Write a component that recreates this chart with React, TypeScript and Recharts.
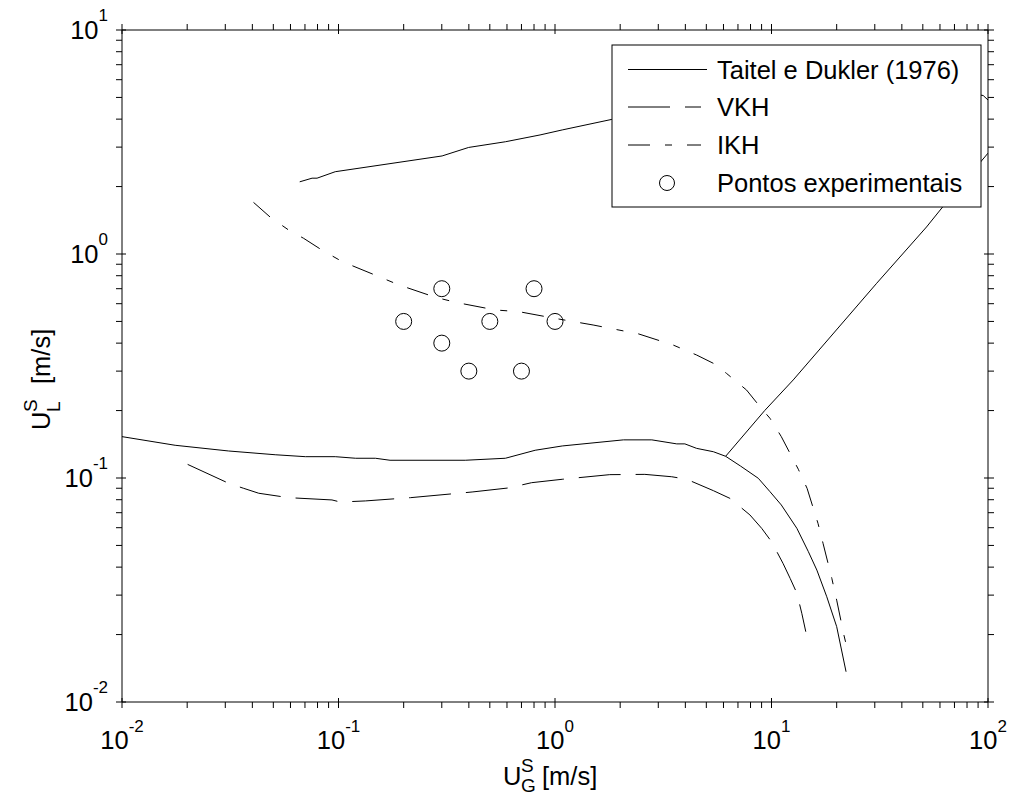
import { ComposedChart, Line, Scatter, XAxis, YAxis } from "recharts";

// log axes: decades and their exponent labels
const X_MAJOR = [0.01, 0.1, 1, 10, 100];
const X_EXP = ["-2", "-1", "0", "1", "2"];
const Y_MAJOR = [0.01, 0.1, 1, 10];
const Y_EXP = ["-2", "-1", "0", "1"];
const MINOR_STEPS = [2, 3, 4, 5, 6, 7, 8, 9];

// Taitel e Dukler (1976) boundaries
const taitelUpper = [
  { x: 0.0662, y: 2.1 }, { x: 0.0755, y: 2.18 }, { x: 0.0796, y: 2.18 }, { x: 0.0966, y: 2.33 },
  { x: 0.301, y: 2.74 }, { x: 0.399, y: 2.99 }, { x: 0.59, y: 3.17 }, { x: 0.853, y: 3.4 },
  { x: 1.08, y: 3.58 }, { x: 1.83, y: 3.99 }, { x: 3, y: 4.4 }, { x: 6, y: 4.9 },
  { x: 15, y: 5.3 }, { x: 40, y: 5.45 }, { x: 70, y: 5.35 }, { x: 95, y: 5.1 }, { x: 100, y: 4.87 },
];

const taitelLower = [
  { x: 0.01, y: 0.153 }, { x: 0.0176, y: 0.14 }, { x: 0.0311, y: 0.132 }, { x: 0.051, y: 0.127 },
  { x: 0.0703, y: 0.1245 }, { x: 0.0966, y: 0.1245 }, { x: 0.12, y: 0.1225 }, { x: 0.148, y: 0.1225 },
  { x: 0.173, y: 0.12 }, { x: 0.385, y: 0.12 }, { x: 0.59, y: 0.1225 }, { x: 0.81, y: 0.133 },
  { x: 1.08, y: 0.139 }, { x: 2.07, y: 0.148 }, { x: 2.8, y: 0.148 }, { x: 3.65, y: 0.142 },
  { x: 3.98, y: 0.142 }, { x: 4.51, y: 0.1356 }, { x: 5.39, y: 0.131 }, { x: 6.14, y: 0.125 },
  { x: 7.2, y: 0.113 }, { x: 8.69, y: 0.0997 }, { x: 9.84, y: 0.0869 }, { x: 11.1, y: 0.0758 },
  { x: 13.1, y: 0.0596 }, { x: 14.8, y: 0.0469 }, { x: 16.2, y: 0.0388 }, { x: 18, y: 0.0295 },
  { x: 20, y: 0.0217 }, { x: 22.1, y: 0.01365 },
];

const taitelDiagonal = [
  { x: 6.14, y: 0.125 }, { x: 9.3, y: 0.2 }, { x: 12.6, y: 0.274 }, { x: 30.6, y: 0.74 },
  { x: 52, y: 1.32 }, { x: 62, y: 1.63 }, { x: 100, y: 2.82 },
];

const vkh = [
  { x: 0.0201, y: 0.115 }, { x: 0.0311, y: 0.0947 }, { x: 0.0365, y: 0.0899 }, { x: 0.0428, y: 0.0855 },
  { x: 0.0588, y: 0.0817 }, { x: 0.0933, y: 0.0798 }, { x: 0.102, y: 0.0781 }, { x: 0.133, y: 0.079 },
  { x: 0.215, y: 0.0817 }, { x: 0.414, y: 0.0866 }, { x: 0.611, y: 0.0903 }, { x: 0.78, y: 0.0953 },
  { x: 1.08, y: 0.0987 }, { x: 1.79, y: 0.1035 }, { x: 2.6, y: 0.1038 }, { x: 3.46, y: 0.1013 },
  { x: 4.06, y: 0.0987 }, { x: 5.39, y: 0.0878 }, { x: 6.43, y: 0.0811 }, { x: 7.95, y: 0.0684 },
  { x: 9.01, y: 0.0596 }, { x: 10, y: 0.052 }, { x: 11.3, y: 0.0416 }, { x: 12.2, y: 0.0356 },
  { x: 13.1, y: 0.0306 }, { x: 13.8, y: 0.0249 }, { x: 14.4, y: 0.0206 },
];

const ikh = [
  { x: 0.0405, y: 1.7 }, { x: 0.0484, y: 1.46 }, { x: 0.0588, y: 1.28 }, { x: 0.069, y: 1.175 },
  { x: 0.084, y: 1.04 }, { x: 0.104, y: 0.925 }, { x: 0.151, y: 0.798 }, { x: 0.19, y: 0.728 },
  { x: 0.28, y: 0.641 }, { x: 0.352, y: 0.607 }, { x: 0.53, y: 0.5625 }, { x: 0.68, y: 0.553 },
  { x: 1, y: 0.516 }, { x: 1.5, y: 0.482 }, { x: 2.43, y: 0.44 }, { x: 3.52, y: 0.392 },
  { x: 4.51, y: 0.354 }, { x: 5.39, y: 0.325 }, { x: 6.2, y: 0.293 }, { x: 7.67, y: 0.247 },
  { x: 8.85, y: 0.208 }, { x: 9.84, y: 0.1847 }, { x: 11.1, y: 0.153 }, { x: 13.3, y: 0.1094 },
  { x: 14.6, y: 0.0899 }, { x: 16.4, y: 0.0627 }, { x: 17.3, y: 0.0511 }, { x: 19, y: 0.0356 },
  { x: 20, y: 0.0285 }, { x: 21.6, y: 0.0199 }, { x: 22.8, y: 0.016 },
];

const pontos = [
  { x: 0.2, y: 0.5 }, { x: 0.3, y: 0.7 }, { x: 0.3, y: 0.4 }, { x: 0.4, y: 0.3 },
  { x: 0.5, y: 0.5 }, { x: 0.7, y: 0.3 }, { x: 0.8, y: 0.7 }, { x: 1, y: 0.5 },
];

const FONT = "'Liberation Sans', Arial, sans-serif";
const VKH_DASH = "42 15";
const IKH_DASH = "22 15 7 15";

const withMinors = (majors: number[]) =>
  majors.flatMap((m, i) =>
    i < majors.length - 1 ? [m, ...MINOR_STEPS.map((k) => +(m * k).toPrecision(6))] : [m]
  );

const X_TICKS = withMinors(X_MAJOR);
const Y_TICKS = withMinors(Y_MAJOR);

const tickLen = (v: number, majors: number[]) => (majors.includes(v) ? 10 : 6);

function BottomTick(p: any) {
  const v = p.payload.value;
  const i = X_MAJOR.indexOf(v);
  return (
    <g>
      <line x1={p.x} y1={p.y} x2={p.x} y2={p.y - tickLen(v, X_MAJOR)} stroke="#000" />
      {i >= 0 && (
        <text x={p.x} y={p.y + 41} textAnchor="middle" fontSize={25.5} fontFamily={FONT} fill="#000">
          10<tspan dy={-17} fontSize={17}>{X_EXP[i]}</tspan>
        </text>
      )}
    </g>
  );
}

function TopTick(p: any) {
  const v = p.payload.value;
  return <line x1={p.x} y1={p.y} x2={p.x} y2={p.y + tickLen(v, X_MAJOR)} stroke="#000" />;
}

function LeftTick(p: any) {
  const v = p.payload.value;
  const i = Y_MAJOR.indexOf(v);
  return (
    <g>
      <line x1={p.x} y1={p.y} x2={p.x + tickLen(v, Y_MAJOR)} y2={p.y} stroke="#000" />
      {i >= 0 && (
        <text x={108} y={p.y + 9} textAnchor="end" fontSize={25.5} fontFamily={FONT} fill="#000">
          10<tspan dy={-18} fontSize={17}>{Y_EXP[i]}</tspan>
        </text>
      )}
    </g>
  );
}

function RightTick(p: any) {
  const v = p.payload.value;
  return <line x1={p.x} y1={p.y} x2={p.x - tickLen(v, Y_MAJOR)} y2={p.y} stroke="#000" />;
}

const Ring = (p: any) => <circle cx={p.cx} cy={p.cy} r={8} fill="none" stroke="#000" strokeWidth={1} />;

const axisCommon = {
  type: "number" as const,
  scale: "log" as const,
  allowDataOverflow: true,
  tickLine: false,
  tickMargin: 0,
  interval: 0 as const,
  axisLine: { stroke: "#000", strokeWidth: 1 },
};

export default function App() {
  return (
    <div style={{ position: "absolute", left: 0, top: 0, width: 1013, height: 796, background: "#fff", fontFamily: FONT }}>
      <ComposedChart width={1013} height={796} margin={{ top: 20, right: 15, bottom: 34, left: 62 }}>
        <XAxis {...axisCommon} dataKey="x" domain={[0.01, 100]} ticks={X_TICKS} height={60} tick={BottomTick} />
        <XAxis {...axisCommon} xAxisId="top" orientation="top" dataKey="x" domain={[0.01, 100]} ticks={X_TICKS} height={10} tick={TopTick} />
        <YAxis {...axisCommon} domain={[0.01, 10]} ticks={Y_TICKS} width={60} tick={LeftTick} />
        <YAxis {...axisCommon} yAxisId="right" orientation="right" domain={[0.01, 10]} ticks={Y_TICKS} width={10} tick={RightTick} />

        <Line data={taitelUpper} dataKey="y" type="linear" stroke="#000" strokeWidth={1} dot={false} isAnimationActive={false} />
        <Line data={taitelLower} dataKey="y" type="linear" stroke="#000" strokeWidth={1} dot={false} isAnimationActive={false} />
        <Line data={taitelDiagonal} dataKey="y" type="linear" stroke="#000" strokeWidth={1} dot={false} isAnimationActive={false} />
        <Line data={vkh} dataKey="y" type="linear" stroke="#000" strokeWidth={1} strokeDasharray={VKH_DASH} dot={false} isAnimationActive={false} />
        <Line data={ikh} dataKey="y" type="linear" stroke="#000" strokeWidth={1} strokeDasharray={IKH_DASH} dot={false} isAnimationActive={false} />
        <Scatter data={pontos} dataKey="y" shape={Ring} isAnimationActive={false} />
      </ComposedChart>

      <svg width={1013} height={796} style={{ position: "absolute", left: 0, top: 0, pointerEvents: "none" }} fontFamily={FONT}>
        {/* legend */}
        <rect x={612} y={45} width={369} height={162} fill="#fff" stroke="#000" strokeWidth={1} />
        <line x1={628} y1={69.5} x2={707} y2={69.5} stroke="#000" />
        <text x={717} y={78.5} fontSize={25.5}>Taitel e Dukler (1976)</text>
        <line x1={628} y1={107} x2={701} y2={107} stroke="#000" strokeDasharray={VKH_DASH} />
        <text x={717} y={116} fontSize={25.5}>VKH</text>
        <line x1={628} y1={145} x2={701} y2={145} stroke="#000" strokeDasharray={IKH_DASH} />
        <text x={717} y={153.5} fontSize={25.5}>IKH</text>
        <circle cx={667} cy={183} r={7.5} fill="none" stroke="#000" />
        <text x={717} y={192} fontSize={25.5}>Pontos experimentais</text>

        {/* axis titles */}
        <text x={503} y={785} fontSize={25.5}>U</text>
        <text x={521} y={772} fontSize={19}>S</text>
        <text x={521} y={792} fontSize={19}>G</text>
        <text x={542} y={785} fontSize={25.5}>[m/s]</text>

        <g transform="translate(50, 0) rotate(-90)">
          <text x={-430} y={0} fontSize={25.5}>U</text>
          <text x={-412} y={-13} fontSize={19}>S</text>
          <text x={-412} y={10} fontSize={19}>L</text>
          <text x={-384} y={0} fontSize={25.5}>[m/s]</text>
        </g>
      </svg>
    </div>
  );
}
